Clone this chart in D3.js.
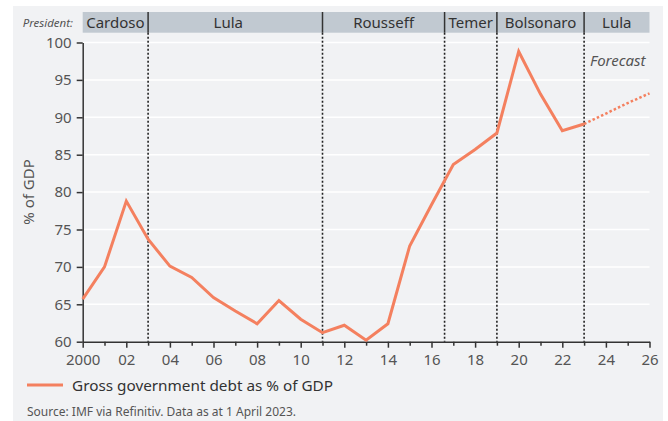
<!DOCTYPE html>
<html>
<head>
<meta charset="utf-8">
<script src="https://cdn.jsdelivr.net/npm/d3@7"></script>
<style>
  body { margin: 0; background: #fff; }
  svg { display: block; font-family: "Noto Sans", sans-serif; }
</style>
</head>
<body>
<svg width="668" height="421"></svg>
<script>
// data
var years = [2000, 2001, 2002, 2003, 2004, 2005, 2006, 2007, 2008, 2009, 2010, 2011, 2012,
    2013, 2014, 2015, 2016, 2017, 2018, 2019, 2020, 2021, 2022, 2023, 2024, 2025, 2026];
var debt = [65.7, 70.0, 78.8, 73.7, 70.1, 68.6, 65.9, 64.1, 62.4, 65.5, 63.0, 61.2, 62.2,
    60.2, 62.4, 72.8, 78.3, 83.7, 85.7, 87.9, 98.8, 93.1, 88.2, 89.1, 90.5, 91.9, 93.2];
var forecastFrom = 2023;

var presidents = ["Cardoso", "Lula", "Rousseff", "Temer", "Bolsonaro", "Lula"];
var termStart = [2000, 2003, 2011, 2016.6, 2019, 2023];
var termEnd = [2003, 2011, 2016.6, 2019, 2023, 2026];

var yTicks = [60, 65, 70, 75, 80, 85, 90, 95, 100];
var seriesName = "Gross government debt as % of GDP";
var source = "Source: IMF via Refinitiv. Data as at 1 April 2023.";

var svg = d3.select("svg"),
    width = +svg.attr("width"),
    height = +svg.attr("height");

var lineColor = "#f4805f",
    ink = "#333",
    grey = "#555";

var x = d3.scaleLinear().domain([2000, 2026]).range([82.7, 649.5]);
var y = d3.scaleLinear().domain([60, 100]).range([341.7, 42.5]);

var points = years.map(function (d, i) { return { year: d, value: debt[i] }; });

// panel
svg.append("rect")
    .attr("x", 13).attr("y", 6)
    .attr("width", 650).attr("height", height - 6)
    .attr("fill", "#f1f2f4");

// gridlines
svg.append("g")
    .selectAll("line")
    .data(yTicks.slice(1))
    .enter().append("line")
    .attr("x1", x(2000)).attr("x2", x(2026))
    .attr("y1", function (d) { return y(d); })
    .attr("y2", function (d) { return y(d); })
    .attr("stroke", "#fff")
    .attr("stroke-width", 1.5);

// president header
var header = svg.append("g");
header.append("rect")
    .attr("x", x(2000)).attr("y", 12)
    .attr("width", x(2026) - x(2000)).attr("height", 20.7)
    .attr("fill", "#c1c9d1");

header.selectAll("text.pres")
    .data(presidents)
    .enter().append("text")
    .attr("class", "pres")
    .attr("x", function (d, i) { return (x(termStart[i]) + x(termEnd[i])) / 2 - (i == 1 ? 7 : 0); })
    .attr("y", 28)
    .attr("text-anchor", "middle")
    .attr("font-size", 15)
    .attr("fill", ink)
    .text(function (d) { return d; });

header.append("text")
    .attr("x", 73).attr("y", 27)
    .attr("text-anchor", "end")
    .attr("font-size", 11.5)
    .attr("font-style", "italic")
    .attr("fill", grey)
    .text("President:");

var changes = termStart.slice(1);

header.selectAll("line.sep")
    .data(changes)
    .enter().append("line")
    .attr("class", "sep")
    .attr("x1", function (d) { return x(d); })
    .attr("x2", function (d) { return x(d); })
    .attr("y1", 12).attr("y2", 32.7)
    .attr("stroke", ink)
    .attr("stroke-width", 1.5);

svg.append("g")
    .selectAll("line")
    .data(changes)
    .enter().append("line")
    .attr("x1", function (d) { return x(d); })
    .attr("x2", function (d) { return x(d); })
    .attr("y1", 32.7).attr("y2", y(60))
    .attr("stroke", "#222")
    .attr("stroke-width", 1.6)
    .attr("stroke-dasharray", "2,2");

// axes
var yAxis = svg.append("g")
    .attr("transform", "translate(" + x(2000) + ",0)")
    .call(d3.axisLeft(y).tickValues(yTicks).tickSize(6).tickSizeOuter(0).tickPadding(5));

var xAxis = svg.append("g")
    .attr("transform", "translate(0," + y(60) + ")")
    .call(d3.axisBottom(x)
        .tickValues(years)
        .tickSizeOuter(0)
        .tickPadding(7)
        .tickFormat(function (d) {
            if (d % 2) return "";
            return d == 2000 ? "2000" : d3.format("02")(d % 100);
        }));

xAxis.selectAll(".tick line")
    .attr("y2", function (d) { return d % 2 ? 4 : 6; });

svg.selectAll(".domain").attr("stroke", ink).attr("stroke-width", 1.5);
svg.selectAll(".tick line").attr("stroke", ink).attr("stroke-width", 1.5);
svg.selectAll(".tick text")
    .attr("fill", grey)
    .attr("font-size", 15)
    .attr("font-family", "Noto Sans, sans-serif");

svg.append("text")
    .attr("transform", "translate(34,192) rotate(-90)")
    .attr("text-anchor", "middle")
    .attr("font-size", 15)
    .attr("fill", grey)
    .text("% of GDP");

// series
var line = d3.line()
    .x(function (d) { return x(d.year); })
    .y(function (d) { return y(d.value); });

svg.append("path")
    .datum(points.filter(function (d) { return d.year <= forecastFrom; }))
    .attr("d", line)
    .attr("fill", "none")
    .attr("stroke", lineColor)
    .attr("stroke-width", 3)
    .attr("stroke-linejoin", "miter");

svg.append("path")
    .datum(points.filter(function (d) { return d.year >= forecastFrom; }))
    .attr("d", line)
    .attr("fill", "none")
    .attr("stroke", lineColor)
    .attr("stroke-width", 2.5)
    .attr("stroke-dasharray", "2.5,2.2");

svg.append("text")
    .attr("x", 590).attr("y", 66)
    .attr("font-size", 15)
    .attr("font-style", "italic")
    .attr("fill", grey)
    .text("Forecast");

// legend
svg.append("line")
    .attr("x1", 27).attr("x2", 63)
    .attr("y1", 385).attr("y2", 385)
    .attr("stroke", lineColor)
    .attr("stroke-width", 3);

svg.append("text")
    .attr("x", 72).attr("y", 391)
    .attr("font-size", 15.3)
    .attr("fill", ink)
    .text(seriesName);

svg.append("text")
    .attr("x", 27).attr("y", 416)
    .attr("font-size", 12)
    .attr("fill", grey)
    .text(source);
</script>
</body>
</html>
